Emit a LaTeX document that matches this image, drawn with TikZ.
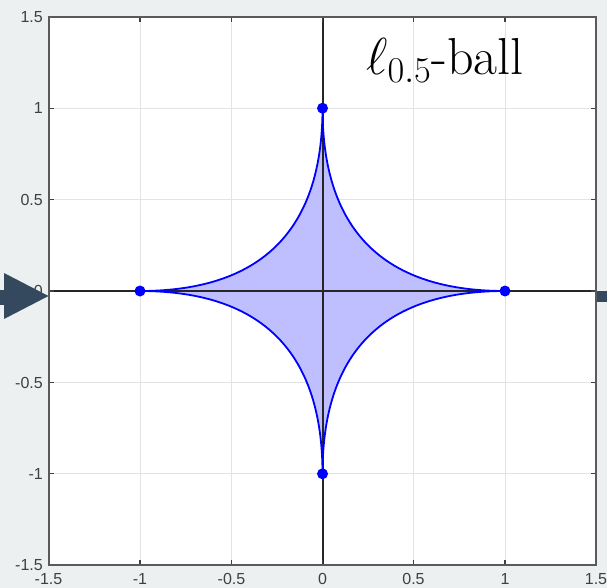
\RequirePackage{fix-cm}
\documentclass[tikz,border=0pt]{standalone}
\usepackage{fontspec}
\setsansfont{Liberation Sans}
\definecolor{bgc}{HTML}{ECF0F1}
\definecolor{navy}{HTML}{34495E}
\definecolor{gridc}{HTML}{E3E3E3}
\definecolor{axc}{HTML}{262626}
\definecolor{boxc}{HTML}{5A5A5A}
\definecolor{tickc}{HTML}{404040}
\definecolor{ballfill}{HTML}{BFBFFF}
\tikzset{
  ticklab/.style={font=\sffamily\fontsize{16}{16}\selectfont, text=tickc, inner sep=0pt},
  gridline/.style={draw=gridc, line width=1pt},
  axisline/.style={draw=axc, line width=2pt},
  ballcurve/.style={draw=blue, line width=1.8pt, line join=round},
  corner/.style={fill=blue, draw=none},
  arrowshape/.style={fill=navy, draw=none},
}
\begin{document}
\begin{tikzpicture}[x=1pt,y=-1pt]
\useasboundingbox (0,0) rectangle (607,588);
\fill[bgc] (0,0) rectangle (607,588);
\fill[white] (48.5,16.5) rectangle (596,565);
\begin{scope}[shift={(322.5pt,-291pt)}, x=182.5pt, y=182.8pt]
  % grid
  \foreach \v in {-1,-0.5,0.5,1} {
    \draw[gridline] (\v,-1.5) -- (\v,1.5);
    \draw[gridline] (-1.5,\v) -- (1.5,\v);
  }
  % fill
  \fill[ballfill] plot[domain=0:360, samples=721, smooth, variable=\t]
     ({cos(\t)*cos(\t)*cos(\t)*abs(cos(\t))}, {sin(\t)*sin(\t)*sin(\t)*abs(sin(\t))}) -- cycle;
  % axes
  \draw[axisline] (-1.5,0) -- (1.5,0);
  \draw[axisline] (0,-1.5) -- (0,1.5);
  % curve
  \draw[ballcurve] plot[domain=0:360, samples=721, smooth, variable=\t]
     ({cos(\t)*cos(\t)*cos(\t)*abs(cos(\t))}, {sin(\t)*sin(\t)*sin(\t)*abs(sin(\t))}) -- cycle;
  % corner dots
  \fill[corner] (1,0) circle[radius=5.5pt];
  \fill[corner] (-1,0) circle[radius=5.5pt];
  \fill[corner] (0,1) circle[radius=5.5pt];
  \fill[corner] (0,-1) circle[radius=5.5pt];
  % ticks
  \foreach \v in {-1.5,-1,-0.5,0,0.5,1,1.5} {
    \draw[tickc, line width=1.2pt] (\v,-1.5) -- ++(0,5.5pt);
    \draw[tickc, line width=1.2pt] (\v,1.5) -- ++(0,-5.5pt);
    \draw[tickc, line width=1.2pt] (-1.5,\v) -- ++(5.5pt,0);
    \draw[tickc, line width=1.2pt] (1.5,\v) -- ++(-5.5pt,0);
  }
  % box
  \draw[boxc, line width=2pt] (-1.5,-1.5) rectangle (1.5,1.5);
\end{scope}
% y tick labels
\node[ticklab, anchor=east] (ya) at (43,17) {1.5};
\node[ticklab, anchor=east] (yb) at (43,108) {1};
\node[ticklab, anchor=east] (yc) at (43,199.5) {0.5};
\node[ticklab, anchor=east] (yd) at (43,291) {0};
\node[ticklab, anchor=east] (ye) at (43,382.5) {-0.5};
\node[ticklab, anchor=east] (yf) at (43,474) {-1};
\node[ticklab, anchor=east] (yg) at (43,565) {-1.5};
% x tick labels
\node[ticklab] (xa) at (48.5,579) {-1.5};
\node[ticklab] (xb) at (140,579) {-1};
\node[ticklab] (xc) at (231.5,579) {-0.5};
\node[ticklab] (xd) at (322.5,579) {0};
\node[ticklab] (xe) at (413.5,579) {0.5};
\node[ticklab] (xf) at (505,579) {1};
\node[ticklab] (xg) at (596,579) {1.5};
% title
\node[anchor=base west, inner sep=0pt, font=\fontsize{52}{52}\selectfont] (title) at (366,75) {$\ell_{0.5}$-ball};
% navigation arrows
\fill[arrowshape] (0,290) rectangle (6,305);
\fill[arrowshape] (4,273) -- (48.5,296) -- (4,319) -- cycle;
\fill[arrowshape] (597,291) rectangle (607,302);
\end{tikzpicture}
\end{document}
